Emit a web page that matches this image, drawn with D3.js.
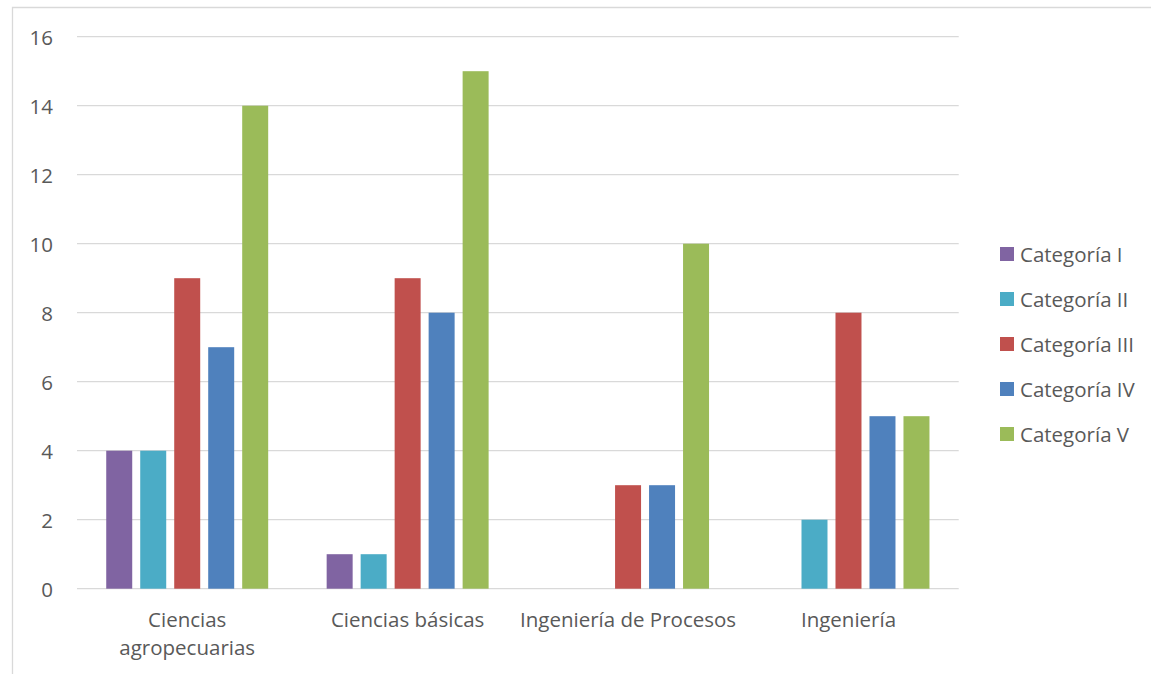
<!DOCTYPE html>
<html>
<head>
<meta charset="utf-8">
<script src="https://cdn.jsdelivr.net/npm/d3@7"></script>
<style>
  html, body { margin: 0; padding: 0; background: #fff; }
  svg { display: block; }
  text { font-family: "Open Sans", sans-serif; fill: #595959; }
</style>
</head>
<body>
<svg id="chart" width="1151" height="674"></svg>
<script>
// ---- data ----
const categories = ["Ciencias agropecuarias", "Ciencias básicas", "Ingeniería de Procesos", "Ingeniería"];
const categoryLabelLines = [["Ciencias", "agropecuarias"], ["Ciencias básicas"], ["Ingeniería de Procesos"], ["Ingeniería"]];
const seriesNames = ["Categoría I", "Categoría II", "Categoría III", "Categoría IV", "Categoría V"];
const seriesColors = ["#8064A2", "#4BACC6", "#C0504D", "#4F81BD", "#9BBB59"];
const catI   = [4, 1, 0, 0];
const catII  = [4, 1, 0, 2];
const catIII = [9, 9, 3, 8];
const catIV  = [7, 8, 3, 5];
const catV   = [14, 15, 10, 5];
const seriesValues = [catI, catII, catIII, catIV, catV];
const yTicks = [0, 2, 4, 6, 8, 10, 12, 14, 16];

// ---- layout ----
const svg = d3.select("#chart");
const plotLeft = 77, plotRight = 958.7, plotTop = 36.7, plotBottom = 588.7;
const fontSize = 20.5;

// outer border
svg.append("path")
  .attr("d", `M12.5,674 L12.5,7.5 L1151,7.5`)
  .attr("fill", "none").attr("stroke", "#d9d9d9").attr("stroke-width", 1.3);

const y = d3.scaleLinear().domain([0, 16]).range([plotBottom, plotTop]);
const x0 = d3.scaleBand().domain(categories).range([plotLeft, plotRight]).padding(0);
const x1 = d3.scaleBand().domain(seriesNames).range([0, x0.bandwidth()])
  .paddingInner(8 / 34).paddingOuter(0.86);

// gridlines
svg.append("g").selectAll("line").data(yTicks).join("line")
  .attr("x1", plotLeft).attr("x2", plotRight)
  .attr("y1", d => y(d)).attr("y2", d => y(d))
  .attr("stroke", "#d9d9d9").attr("stroke-width", 1.3);

// y labels
svg.append("g").selectAll("text").data(yTicks).join("text")
  .attr("x", 53).attr("y", d => y(d))
  .attr("text-anchor", "end").attr("dominant-baseline", "central")
  .style("font-size", fontSize + "px")
  .text(d => d);

// bars
const groups = svg.append("g").selectAll("g").data(categories).join("g")
  .attr("transform", d => `translate(${x0(d)},0)`);
groups.selectAll("rect")
  .data((c, ci) => seriesNames.map((s, si) => ({ s, si, v: seriesValues[si][ci] })))
  .join("rect")
  .attr("x", d => x1(d.s))
  .attr("width", x1.bandwidth())
  .attr("y", d => y(d.v))
  .attr("height", d => y(0) - y(d.v))
  .attr("fill", d => seriesColors[d.si]);

// x labels
const xl = svg.append("g").selectAll("text").data(categories).join("text")
  .attr("text-anchor", "middle")
  .style("font-size", fontSize + "px");
xl.each(function (d, i) {
  const t = d3.select(this);
  categoryLabelLines[i].forEach((line, li) => {
    t.append("tspan")
      .attr("x", x0(d) + x0.bandwidth() / 2)
      .attr("y", 627 + li * 27.5)
      .text(line);
  });
});

// legend
const legend = svg.append("g").selectAll("g").data(seriesNames).join("g")
  .attr("transform", (d, i) => `translate(1000,${254 + i * 45})`);
legend.append("rect")
  .attr("x", 0).attr("y", -7).attr("width", 14).attr("height", 14)
  .attr("fill", (d, i) => seriesColors[i]);
legend.append("text")
  .attr("x", 20).attr("y", 0).attr("dominant-baseline", "central")
  .style("font-size", fontSize + "px")
  .text(d => d);
</script>
</body>
</html>
